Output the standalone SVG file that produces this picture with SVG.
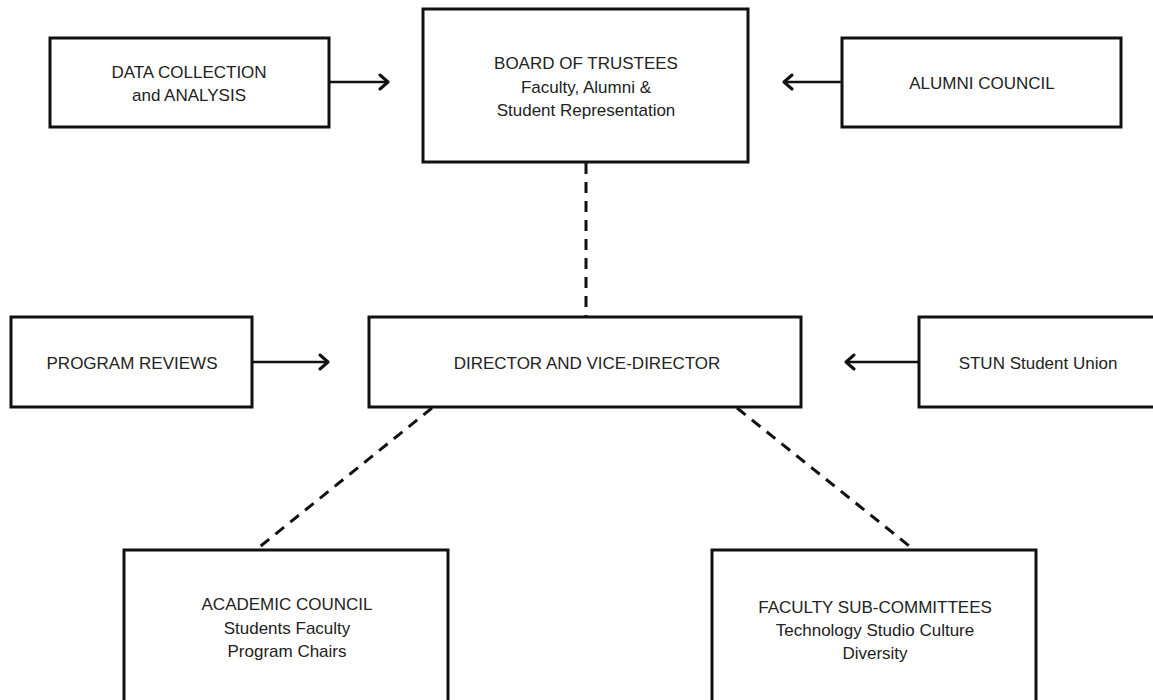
<svg xmlns="http://www.w3.org/2000/svg" width="1153" height="700" viewBox="0 0 1153 700">
<style>
.box{fill:#fff;stroke:#111;stroke-width:3}
.t{font-family:"Liberation Sans",Arial,sans-serif;font-size:17px;fill:#222;text-anchor:middle}
.arr{stroke:#111;stroke-width:2.5;fill:none}
.dash{stroke:#111;stroke-width:3;fill:none;stroke-dasharray:11 8}
</style>
<defs>
<marker id="ah" markerUnits="userSpaceOnUse" markerWidth="14" markerHeight="18" refX="11" refY="9" orient="auto">
<path d="M3,2 L11,9 L3,16" fill="none" stroke="#111" stroke-width="3" stroke-linecap="round" stroke-linejoin="round"/>
</marker>
</defs>
<rect width="1153" height="700" fill="#fff"/>
<g id="connectors">
<line class="arr" x1="329" y1="82" x2="388" y2="82" marker-end="url(#ah)"/>
<line class="arr" x1="842" y1="82" x2="784" y2="82" marker-end="url(#ah)"/>
<line class="arr" x1="252" y1="362" x2="328" y2="362" marker-end="url(#ah)"/>
<line class="arr" x1="919" y1="362" x2="846" y2="362" marker-end="url(#ah)"/>
<line class="dash" x1="586" y1="163" x2="586" y2="316"/>
<line class="dash" x1="432" y1="408" x2="257" y2="549"/>
<line class="dash" x1="737" y1="408" x2="913" y2="549"/>
</g>
<g id="data">
<rect class="box" x="50" y="38" width="279" height="89"/>
<text class="t" x="189" y="78">DATA COLLECTION</text>
<text class="t" x="189" y="101">and ANALYSIS</text>
</g>
<g id="board">
<rect class="box" x="423" y="9" width="325" height="153"/>
<text class="t" x="586" y="69">BOARD OF TRUSTEES</text>
<text class="t" x="586" y="93">Faculty, Alumni &amp;</text>
<text class="t" x="586" y="116">Student Representation</text>
</g>
<g id="alumni">
<rect class="box" x="842" y="38" width="279" height="89"/>
<text class="t" x="982" y="89">ALUMNI COUNCIL</text>
</g>
<g id="program">
<rect class="box" x="11" y="317" width="241" height="90"/>
<text class="t" x="132" y="369">PROGRAM REVIEWS</text>
</g>
<g id="director">
<rect class="box" x="369" y="317" width="432" height="90"/>
<text class="t" x="587" y="369">DIRECTOR AND VICE-DIRECTOR</text>
</g>
<g id="stun">
<rect class="box" x="919" y="317" width="245" height="90"/>
<text class="t" x="1038" y="369">STUN Student Union</text>
</g>
<g id="academic">
<rect class="box" x="124" y="550" width="324" height="170"/>
<text class="t" x="287" y="610">ACADEMIC COUNCIL</text>
<text class="t" x="287" y="634">Students Faculty</text>
<text class="t" x="287" y="657">Program Chairs</text>
</g>
<g id="faculty">
<rect class="box" x="712" y="550" width="324" height="170"/>
<text class="t" x="875" y="613">FACULTY SUB-COMMITTEES</text>
<text class="t" x="875" y="636">Technology Studio Culture</text>
<text class="t" x="875" y="659">Diversity</text>
</g>
</svg>
